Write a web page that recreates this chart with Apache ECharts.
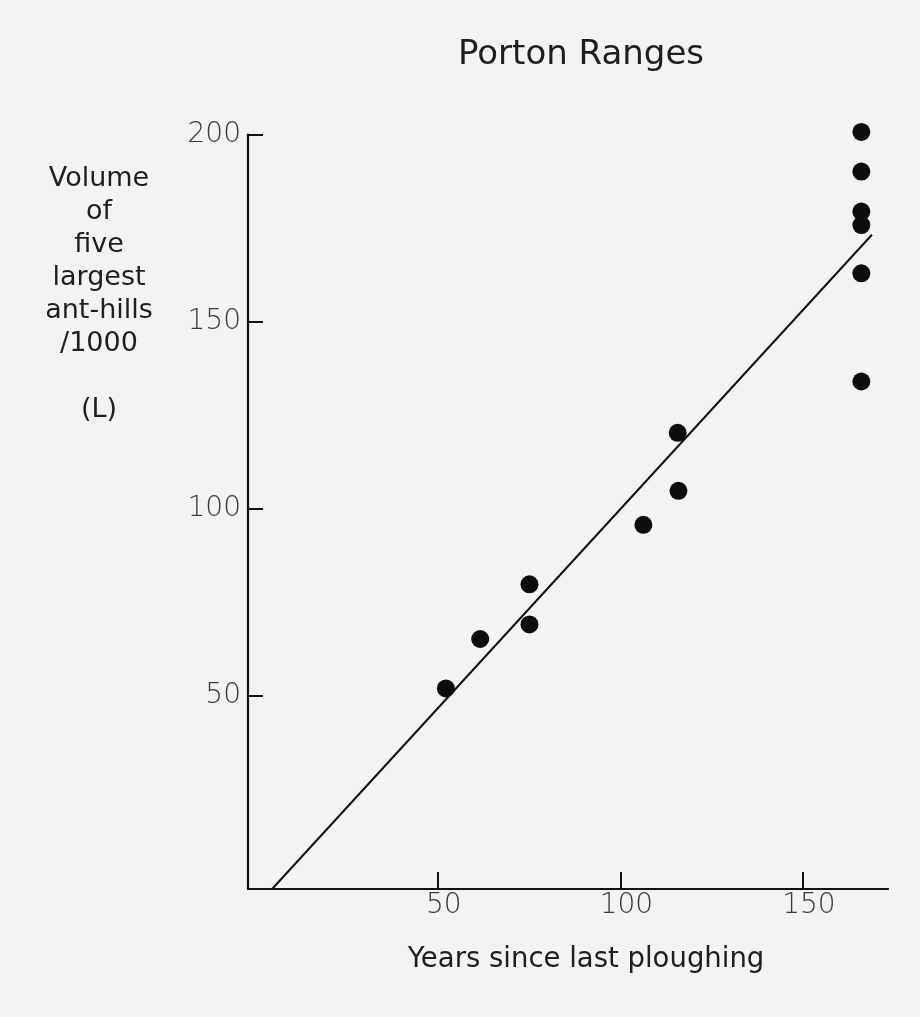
<!DOCTYPE html>
<html>
<head>
<meta charset="utf-8">
<script src="https://cdn.jsdelivr.net/npm/echarts@6/dist/echarts.min.js"></script>
<style>
html,body{margin:0;padding:0;background:#f3f3f5;}
#chart{width:920px;height:1017px;}
</style>
</head>
<body>
<div id="chart"></div>
<script>
// Data
var years = [166, 166, 166, 166, 166, 166, 115.7, 115.9, 106.3, 75.1, 75.1, 61.6, 52.2];
var volume = [200.7, 190.1, 179.4, 175.8, 162.9, 134.0, 120.3, 104.8, 95.7, 79.8, 69.1, 65.2, 52.0];
var fitX = [4.6, 168.9];
var fitY = [-1.6, 173.2];
var xTicks = [50, 100, 150];
var yTicks = [50, 100, 150, 200];
var titleText = 'Porton Ranges';
var xName = 'Years since last ploughing';
var yName = 'Volume\nof\nfive\nlargest\nant-hills\n/1000\n\n(L)';

var points = years.map(function (x, i) { return [x, volume[i]]; });
var fit = fitX.map(function (x, i) { return [x, fitY[i]]; });

var chart = echarts.init(document.getElementById('chart'));
var tickFont = { fontFamily: 'DejaVu Sans', fontSize: 28, fontWeight: 200, color: '#3a3a3a' };
chart.setOption({
  backgroundColor: '#f3f3f5',
  animation: false,
  grid: { left: 248, top: 134.5, right: 32, bottom: 128, containLabel: false },
  xAxis: {
    type: 'value', min: -2, max: 173.3,
    splitLine: { show: false },
    axisLine: { show: true, onZero: false, lineStyle: { color: '#111', width: 2.2 } },
    axisTick: { show: true, inside: true, length: 17, customValues: xTicks, lineStyle: { color: '#111', width: 2 } },
    axisLabel: Object.assign({ customValues: xTicks, margin: 3, padding: [0, 0, 0, 12] }, tickFont)
  },
  yAxis: {
    type: 'value', min: -1.6, max: 200,
    splitLine: { show: false },
    axisLine: { show: true, onZero: false, lineStyle: { color: '#111', width: 2.2 } },
    axisTick: { show: true, inside: true, length: 15, customValues: yTicks, lineStyle: { color: '#111', width: 2 } },
    axisLabel: Object.assign({ customValues: yTicks, margin: 7, padding: [6, 0, 0, 0] }, tickFont)
  },
  series: [
    {
      type: 'line', data: fit, symbol: 'none',
      lineStyle: { color: '#111', width: 2 }, z: 2
    },
    {
      type: 'scatter', data: points, symbol: 'circle', symbolSize: 18, clip: false,
      itemStyle: { color: '#0d0d0d', opacity: 1 }, z: 3
    }
  ],
  graphic: [
    { type: 'text', x: 581, y: 55, style: { text: titleText, align: 'center', verticalAlign: 'middle', font: '34px "DejaVu Sans"', fill: '#1e1e1e' } },
    { type: 'text', x: 586, y: 960, style: { text: xName, align: 'center', verticalAlign: 'middle', font: '27.5px "DejaVu Sans"', fill: '#1e1e1e' } },
    { type: 'text', x: 99, y: 162, style: { text: yName, align: 'center', verticalAlign: 'top', font: '27px "DejaVu Sans"', lineHeight: 33, fill: '#1e1e1e' } }
  ]
});
</script>
</body>
</html>
